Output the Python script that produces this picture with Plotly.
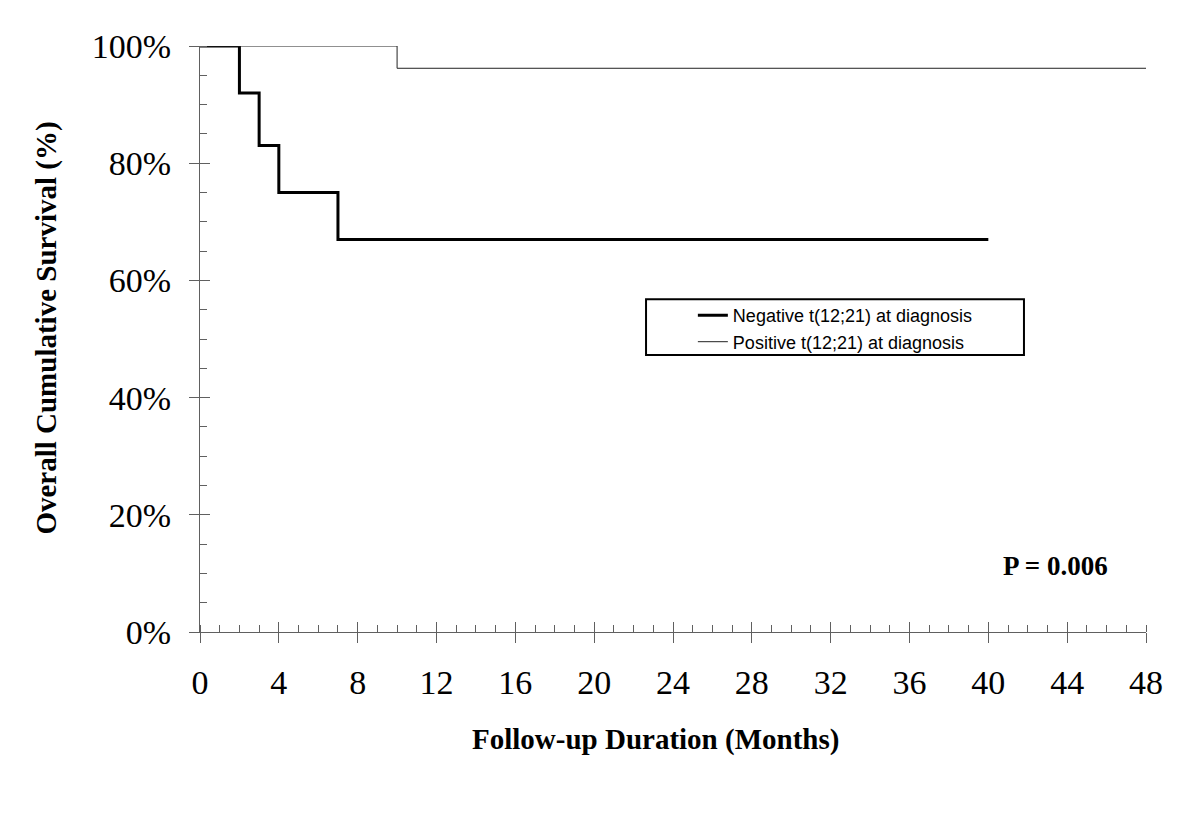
import plotly.graph_objects as go

# Kaplan-Meier step data (months, % survival)
neg_months = [0, 2, 2, 3, 3, 4, 4, 7, 7, 40]
neg_surv = [100, 100, 92.0, 92.0, 83.0, 83.0, 75.0, 75.0, 67.0, 67.0]
pos_months = [0, 10, 10, 48]
pos_surv = [100, 100, 96.2, 96.2]

x_ticks = [0, 4, 8, 12, 16, 20, 24, 28, 32, 36, 40, 44, 48]
y_ticks = [0, 20, 40, 60, 80, 100]
y_labels = ["0%", "20%", "40%", "60%", "80%", "100%"]

SERIF = "Liberation Serif, Times New Roman, serif"
AX = "#606060"

fig = go.Figure()
fig.add_trace(go.Scatter(x=neg_months, y=neg_surv, mode="lines",
                         line=dict(color="black", width=3),
                         name="Negative t(12;21) at diagnosis", cliponaxis=False))
fig.add_trace(go.Scatter(x=pos_months, y=pos_surv, mode="lines",
                         line=dict(color="#222", width=1),
                         name="Positive t(12;21) at diagnosis", cliponaxis=False))
# empty trace to activate overlay axes (for crossing major ticks)
fig.add_trace(go.Scatter(x=[], y=[], xaxis="x2", yaxis="y2", showlegend=False))

common_x = dict(range=[0, 48], tickvals=x_ticks, showgrid=False, zeroline=False)
common_y = dict(range=[0, 100], tickvals=y_ticks, showgrid=False, zeroline=False)

fig.update_layout(
    width=1200, height=815,
    margin=dict(l=192, r=62, t=38, b=191),
    paper_bgcolor="white", plot_bgcolor="white",
    xaxis=dict(**common_x, showline=True, linecolor=AX, linewidth=1,
               ticks="outside", ticklen=10, tickcolor=AX, tickwidth=1,
               ticktext=[str(v) for v in x_ticks],
               tickfont=dict(family=SERIF, size=34, color="black"),
               ticklabelstandoff=10,
               minor=dict(dtick=1, ticks="inside", ticklen=7, tickcolor=AX, tickwidth=1)),
    yaxis=dict(**common_y, showline=True, linecolor=AX, linewidth=1,
               ticks="outside", ticklen=10, tickcolor=AX, tickwidth=1,
               ticktext=y_labels,
               tickfont=dict(family=SERIF, size=34, color="black"),
               ticklabelstandoff=11,
               minor=dict(dtick=5, ticks="inside", ticklen=7, tickcolor=AX, tickwidth=1)),
    xaxis2=dict(**common_x, overlaying="x", anchor="y2", side="bottom",
                ticks="inside", ticklen=10, tickcolor=AX, tickwidth=1,
                showticklabels=False, showline=False),
    yaxis2=dict(**common_y, overlaying="y", anchor="x2", side="left",
                ticks="inside", ticklen=10, tickcolor=AX, tickwidth=1,
                showticklabels=False, showline=False),
    legend=dict(x=0.521, y=0.5715, xanchor="left", yanchor="top",
                bgcolor="rgba(0,0,0,0)", borderwidth=0,
                font=dict(family="Liberation Sans, Arial, sans-serif", size=18, color="black")),
    showlegend=True,
)

# legend frame
fig.add_shape(type="rect", xref="paper", yref="paper",
              x0=0.4715, x1=0.871, y0=0.4727, y1=0.568,
              line=dict(color="black", width=2), fillcolor="rgba(0,0,0,0)")

fig.add_annotation(text="<b>Follow-up Duration (Months)</b>", xref="paper", yref="paper",
                   x=0.481, y=-0.184, xanchor="center", yanchor="middle", showarrow=False,
                   font=dict(family=SERIF, size=29, color="black"))
fig.add_annotation(text="<b>Overall Cumulative Survival (%)</b>", xref="paper", yref="paper",
                   x=-0.162, y=0.519, xanchor="center", yanchor="middle", textangle=-90,
                   showarrow=False, font=dict(family=SERIF, size=29, color="black"))
fig.add_annotation(text="<b>P = 0.006</b>", xref="paper", yref="paper",
                   x=0.904, y=0.113, xanchor="center", yanchor="middle", showarrow=False,
                   font=dict(family=SERIF, size=27, color="black"))

fig.write_html("out.html")
